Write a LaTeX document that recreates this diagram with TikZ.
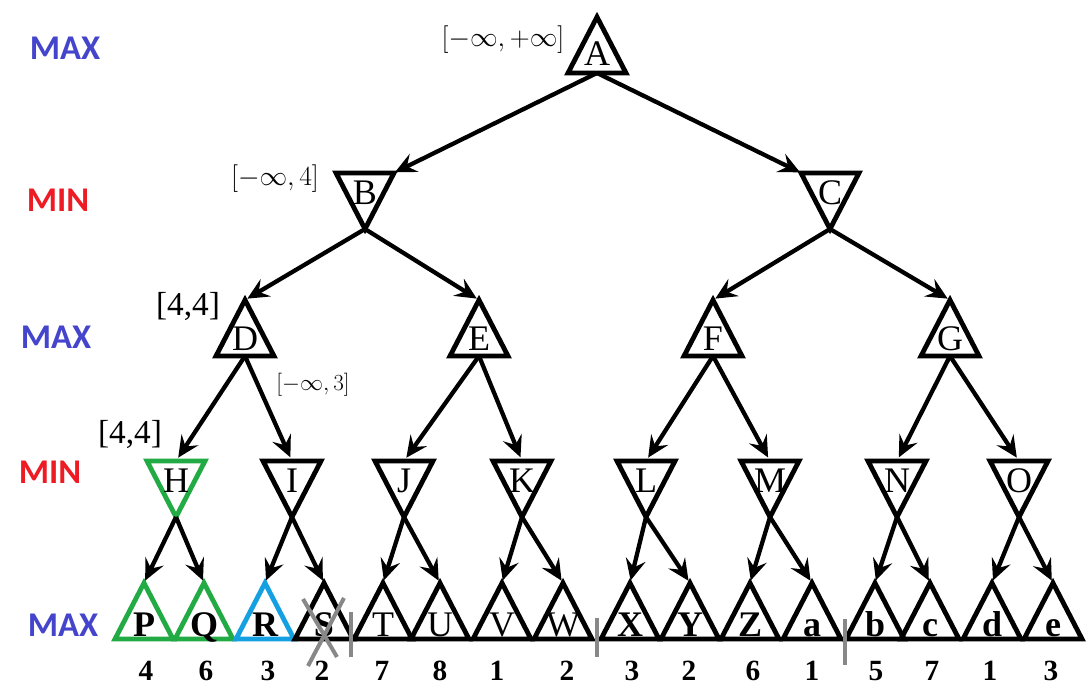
\documentclass[tikz,border=0pt]{standalone}
\usepackage{fontspec}
\setmainfont{Liberation Serif}
\newfontfamily\lvlfont{Carlito}
\usetikzlibrary{arrows.meta,calc}

\definecolor{maxblue}{RGB}{68,68,204}
\definecolor{minred}{RGB}{237,28,36}
\definecolor{hlgreen}{RGB}{34,170,68}
\definecolor{hlblue}{RGB}{20,160,225}
\definecolor{cutgray}{RGB}{136,136,136}

\tikzset{
  triline/.style={line width=3.6pt},
  pics/maxtri/.style={code={
    \draw[triline,#1] (-29,28) -- (0,-28) -- (29,28) -- cycle;
    \coordinate (-top) at (0,-28);
    \coordinate (-bot) at (0,28);
  }},
  pics/mintri/.style={code={
    \draw[triline,#1] (-29,-28) -- (29,-28) -- (0,28) -- cycle;
    \coordinate (-top) at (0,-28);
    \coordinate (-bot) at (0,28);
  }},
  letter/.style={inner sep=0pt, anchor=base, font=\fontsize{27}{27}\selectfont},
  leafletter/.style={letter, font=\fontsize{27}{27}\selectfont\bfseries},
  value/.style={inner sep=0pt, anchor=base, font=\fontsize{22}{22}\selectfont\bfseries},
  lvl/.style={inner sep=0pt, font=\fontsize{26}{26}\selectfont\lvlfont\bfseries},
  bound/.style={inner sep=0pt},
  arr/.style={line width=3.2pt, -{Stealth[length=16pt,width=15pt,inset=6pt]}},
  cut/.style={cutgray, line width=3pt},
}

\begin{document}
\begin{tikzpicture}[x=0.75pt, y=-0.75pt]
\useasboundingbox (0,0) rectangle (1088,690);

% player labels per level
\node[lvl, text=maxblue] (lv0) at (65,48)  {MAX};
\node[lvl, text=minred]  (lv1) at (58,200) {MIN};
\node[lvl, text=maxblue] (lv2) at (56,337) {MAX};
\node[lvl, text=minred]  (lv3) at (50,472) {MIN};
\node[lvl, text=maxblue] (lv4) at (63,625) {MAX};

% root and first levels
\pic (A) at (597,45) {maxtri=black};
\node[letter] (A) at (597,65) {A};

\pic (B) at (365,201) {mintri=black};
\node[letter] (B) at (365,204) {B};
\pic (C) at (830,201) {mintri=black};
\node[letter] (C) at (830,204) {C};

\foreach \n/\x in {D/245, E/479, F/713, G/950}{
  \pic (\n) at (\x,328) {maxtri=black};
  \node[letter] (\n) at (\x,350) {\n};
}

\foreach \n/\x/\c in {H/176/hlgreen, I/292/black, J/404/black, K/522/black,
                      L/646/black, M/770/black, N/897/black, O/1019/black}{
  \pic (\n) at (\x,489) {mintri=\c};
  \node[letter] (\n) at (\x,492) {\n};
}

% leaves
\foreach \n/\x/\c/\f in {P/144/hlgreen/leafletter, Q/204/hlgreen/leafletter,
    R/265/hlblue/leafletter, S/324/black/leafletter, T/383/black/letter,
    U/440/black/letter, V/502/black/letter, W/563/black/letter,
    X/630/black/leafletter, Y/690/black/leafletter, Z/750/black/leafletter,
    a/812/black/leafletter, b/875/black/leafletter, c/930/black/leafletter,
    d/992/black/leafletter, e/1053/black/leafletter}{
  \pic (\n) at (\x,611) {maxtri=\c};
  \node[\f] (\n) at (\x,636) {\n};
}

% leaf values
\foreach \v/\x [count=\i] in {4/146, 6/206, 3/268, 2/322, 7/382, 8/440, 1/497, 2/567,
                              3/632, 2/689, 6/753, 1/812, 5/876, 7/932, 1/990, 3/1051}{
  \node[value] (val\i) at (\x,680) {\v};
}

% search bounds
\node[bound, font=\fontsize{21}{21}\selectfont] (bA) at (503,40) {$[-\infty,+\infty]$};
\node[bound, font=\fontsize{21}{21}\selectfont] (bB) at (275,179) {$[-\infty,4]$};
\node[bound, font=\fontsize{25}{25}\selectfont] (bD) at (188,306) {[4,4]};
\node[bound, font=\fontsize{16}{16}\selectfont] (bI) at (313,385) {$[-\infty,3]$};
\node[bound, font=\fontsize{25}{25}\selectfont] (bH) at (130,434) {[4,4]};

% moves
\draw[arr, shorten >=25pt] (A-bot) -- ($(B-top)!0.25!(B-bot)$);
\draw[arr, shorten >=25pt] (A-bot) -- ($(C-top)!0.25!(C-bot)$);
\foreach \p/\k in {B/D, B/E, C/F, C/G}{
  \draw[arr, shorten >=2pt] (\p-bot) -- (\k-top);
}
\foreach \p/\k in {D/H, D/I, E/J, E/K, F/L, F/M, G/N, G/O}{
  \draw[arr, shorten >=3pt] (\p-bot) -- (\k-top);
}
\foreach \p/\k in {H/P, H/Q, I/R, I/S, J/T, J/U, K/V, K/W,
                   L/X, L/Y, M/Z, M/a, N/b, N/c, O/d, O/e}{
  \draw[arr, shorten >=2pt] (\p-bot) -- (\k-top);
}

% pruned leaf and cut-offs
\draw[cut] (303,599) -- (337,657);
\draw[cut] (344,598) -- (308,666);
\draw[cut] (351,612) -- (351,657);
\draw[cut] (597,618) -- (597,657);
\draw[cut] (845,619) -- (845,665);
\end{tikzpicture}
\end{document}
